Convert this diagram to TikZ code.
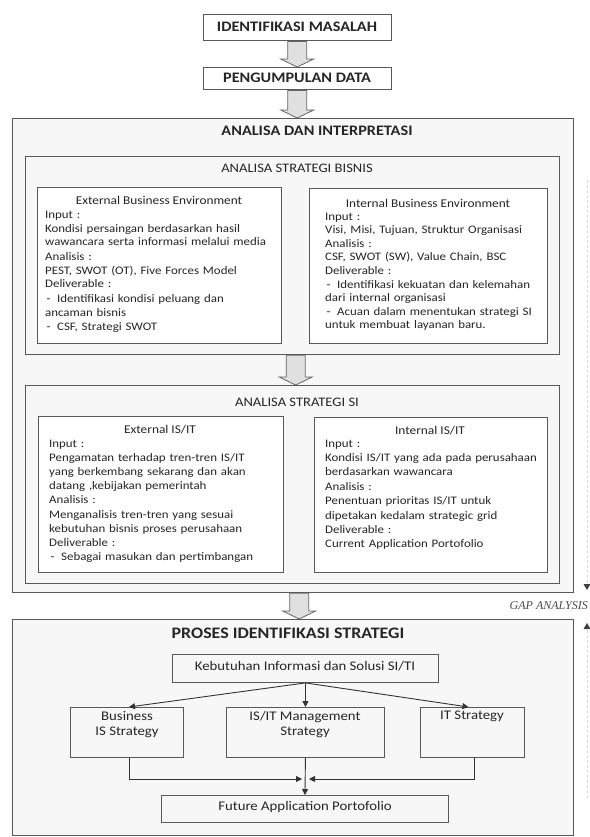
\documentclass[tikz,border=0pt]{standalone}
\usepackage{fontspec}
\setmainfont{Carlito}[FakeStretch=1.12]
\newfontfamily\gapfont{Liberation Serif}
\usetikzlibrary{arrows.meta,calc}
\setlength{\parindent}{0pt}
\newcommand{\ditem}[1]{\par\hangindent=12pt\hangafter=1\noindent\makebox[12pt][l]{\hspace{1.5pt}-}#1\par}
\newcommand{\blockarrow}[3]{%
  \draw[blockarr] let \p1=($(#1.south)+(#3,0)$), \p2=($(#2.north)+(#3,0)$) in
   (\x1-9.5pt,\y1) -- (\x1+9.5pt,\y1) -- (\x1+9.5pt,\y2+8pt) -- (\x1+16.5pt,\y2+8pt)
   -- (\x1,\y2) -- (\x1-16.5pt,\y2+8pt) -- (\x1-9.5pt,\y2+8pt) -- cycle;}
\tikzset{
  x=1pt, y=-1pt,
  bigbox/.style={draw=black!65, line width=1.3pt, fill=black!3, inner sep=0pt, anchor=north west},
  whitebox/.style={draw=black!65, line width=1.1pt, fill=white, inner sep=0pt, anchor=north west},
  topbox/.style={draw=black!65, line width=1.4pt, fill=white, inner sep=0pt, anchor=north west},
  flowbox/.style={draw=black!65, line width=0.9pt, fill=black!3, inner sep=0pt, anchor=north west},
  blockarr/.style={draw=black!60, fill=black!12, line width=0.8pt},
  bold title/.style={font=\fontsize{14.5}{16}\selectfont\bfseries, text=black!85, inner sep=0pt},
  plain title/.style={font=\fontsize{13}{15}\selectfont, text=black!85, inner sep=0pt},
  boxtitle/.style={font=\fontsize{11.9}{14}\selectfont, text=black!85, inner sep=0pt},
  body/.style={font=\fontsize{11.5}{#1}\selectfont, text=black!85, inner sep=0pt, anchor=base west, text width=240pt, align=left},
  flowtext/.style={font=\fontsize{13.2}{15}\selectfont, text=black!85, inner sep=0pt, align=center, anchor=north},
  flowarrow/.style={draw=black!80, line width=0.9pt, -{Triangle[length=6pt,width=6pt]}},
  gapline/.style={draw=black!15, line width=0.6pt, dash pattern=on 3pt off 2pt}
}
\begin{document}
\begin{tikzpicture}
\useasboundingbox (0,0) rectangle (589,837);
\fill[white] (0,0) rectangle (589,837);

% top boxes
\node[topbox, minimum width=188pt, minimum height=26pt] (identi) at (203,14) {};
\node[bold title] (identit) at (297,27) {IDENTIFIKASI MASALAH};
\node[topbox, minimum width=188pt, minimum height=22pt] (pengum) at (203,67) {};
\node[bold title] (pengumt) at (297,78) {PENGUMPULAN DATA};

% main analysis box
\node[bigbox, minimum width=561pt, minimum height=474pt] (analisa) at (12,118) {};
\node[bold title] (analisat) at (317,131) {ANALISA DAN INTERPRETASI};

\blockarrow{identi}{pengum}{-0.5}
\blockarrow{pengum}{analisa}{-0.5}

% strategi bisnis
\node[bigbox, minimum width=534pt, minimum height=198pt] (bisnis) at (25,156) {};
\node[plain title] (bisnist) at (297,168) {ANALISA STRATEGI BISNIS};

\node[whitebox, minimum width=244pt, minimum height=156pt] (ebe) at (37,187) {};
\node[boxtitle] (ebet) at (159,200) {External Business Environment};
\node[body=14pt] (ebeb) at (45,218) {Input :\par
Kondisi persaingan berdasarkan hasil\par
wawancara serta informasi melalui media\par
Analisis :\par
PEST, SWOT (OT), Five Forces Model\par
Deliverable :
\ditem{Identifikasi kondisi peluang dan\\ancaman bisnis}
\ditem{CSF, Strategi SWOT}};

\node[whitebox, minimum width=238pt, minimum height=155pt] (ibe) at (309,188) {};
\node[boxtitle] (ibet) at (428,203) {Internal Business Environment};
\node[body=13.6pt] (ibeb) at (325,220) {Input :\par
Visi, Misi, Tujuan, Struktur Organisasi\par
Analisis :\par
CSF, SWOT (SW), Value Chain, BSC\par
Deliverable :
\ditem{Identifikasi kekuatan dan kelemahan\\dari internal organisasi}
\ditem{Acuan dalam menentukan strategi SI\\untuk membuat layanan baru.}};

% strategi SI
\node[bigbox, minimum width=534pt, minimum height=198pt] (si) at (25,385) {};
\node[plain title] (sit) at (297,402) {ANALISA STRATEGI SI};
\blockarrow{bisnis}{si}{3}

\node[whitebox, minimum width=245pt, minimum height=156pt] (eis) at (38,416) {};
\node[boxtitle] (eist) at (160,430) {External IS/IT};
\node[body=14.2pt] (eisb) at (49,447) {Input :\par
Pengamatan terhadap tren-tren IS/IT\par
yang berkembang sekarang dan akan\par
datang ,kebijakan pemerintah\par
Analisis :\par
Menganalisis tren-tren yang sesuai\par
kebutuhan bisnis proses perusahaan\par
Deliverable :
\ditem{Sebagai masukan dan pertimbangan}};

\node[whitebox, minimum width=233pt, minimum height=155pt] (iis) at (314,417) {};
\node[boxtitle] (iist) at (430,431) {Internal IS/IT};
\node[body=14.4pt] (iisb) at (325,447) {Input :\par
Kondisi IS/IT yang ada pada perusahaan\par
berdasarkan wawancara\par
Analisis :\par
Penentuan prioritas IS/IT untuk\par
dipetakan kedalam strategic grid\par
Deliverable :\par
Current Application Portofolio};

% proses identifikasi strategi
\node[bigbox, minimum width=561pt, minimum height=216pt] (proses) at (12,619) {};
\node[bold title, font=\fontsize{16}{18}\selectfont\bfseries] (prosest) at (288,633) {PROSES IDENTIFIKASI STRATEGI};
\blockarrow{analisa}{proses}{6}

\node[flowbox, minimum width=266pt, minimum height=28pt] (keb) at (172,654) {};
\node[flowtext] (kebt) at (305,661) {Kebutuhan Informasi dan Solusi SI/TI};

\node[flowbox, minimum width=113pt, minimum height=50pt] (bis) at (70,707) {};
\node[flowtext] (bist) at (127,711) {Business\\IS Strategy};
\node[flowbox, minimum width=158pt, minimum height=50pt] (mgmt) at (226,707) {};
\node[flowtext] (mgmtt) at (305,711) {IS/IT Management\\Strategy};
\node[flowbox, minimum width=104pt, minimum height=50pt] (its) at (420,707) {};
\node[flowtext] (itst) at (472,711) {IT Strategy};

\node[flowbox, minimum width=287pt, minimum height=27pt] (fut) at (161,795) {};
\node[flowtext] (futt) at (305,801) {Future Application Portofolio};

\draw[flowarrow] (keb.south) -- ($(bis.north)+(2,0)$);
\draw[flowarrow] (keb.south) -- (mgmt.north);
\draw[flowarrow] (keb.south) -- ($(its.north)+(-4,0)$);
\coordinate (mL) at (302,779);
\coordinate (mR) at (309,779);
\draw[flowarrow] ($(bis.south)+(2,0)$) |- (mL);
\draw[flowarrow] ($(its.south)+(2,0)$) |- (mR);
\draw[flowarrow] (mgmt.south) -- (fut.north);

% gap analysis
\coordinate (g1) at (587,180);
\coordinate (g2) at (587,590);
\coordinate (g3) at (587,623);
\coordinate (g4) at (587,798);
\draw[gapline] (g1) -- (g2);
\draw[gapline] (g4) -- (g3);
\fill[black!75] (g2) -- ++(-3.5,-6) -- ++(7,0) -- cycle;
\fill[black!75] (g3) -- ++(-3.5,6) -- ++(7,0) -- cycle;
\node[font=\gapfont\itshape\fontsize{12}{14}\selectfont, text=black!70, inner sep=0pt, anchor=east] (gap) at (588,606) {GAP ANALYSIS};
\end{tikzpicture}
\end{document}
